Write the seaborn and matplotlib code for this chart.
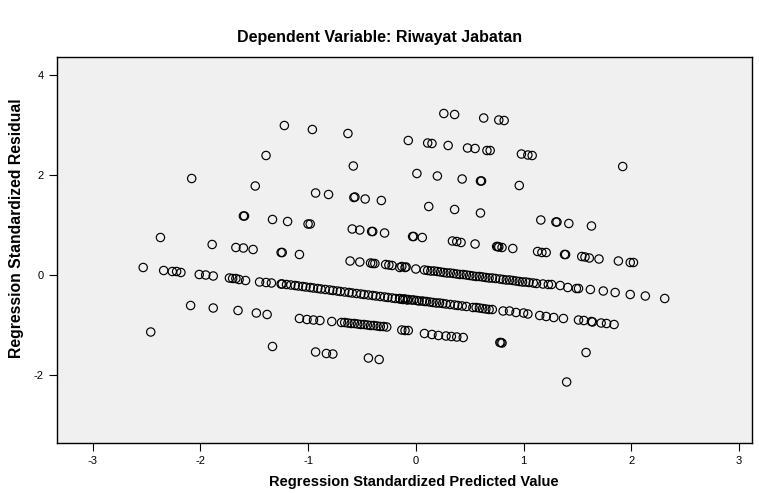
import numpy as np
import pandas as pd
import matplotlib
matplotlib.use("Agg")
import matplotlib.pyplot as plt
import seaborn as sns

# valores (residuos vs predichos estandarizados)

# puntos dispersos de arriba
x_top = [-1.22, -0.96, -0.63, -0.07, -1.39, -0.58, -1.49, -0.93, -0.81, -0.575, -0.565,
         -0.47, -0.32, 0.26, 0.36, 0.63, 0.77, 0.82, 0.11, 0.15, 0.30, 0.48, 0.55, 0.66,
         0.69, 0.98, 1.04, 1.08, 0.01, 0.20, 0.43, 0.60, 0.61, 0.96, 0.12, 0.36, 0.60,
         1.16, 1.30, 1.31, 1.42, 1.63, 1.92, -2.08]
y_top = [2.99, 2.91, 2.83, 2.69, 2.39, 2.18, 1.78, 1.64, 1.61, 1.55, 1.56,
         1.52, 1.49, 3.23, 3.21, 3.14, 3.10, 3.09, 2.64, 2.63, 2.59, 2.54, 2.53, 2.49,
         2.49, 2.42, 2.40, 2.39, 2.03, 1.98, 1.92, 1.88, 1.88, 1.79, 1.37, 1.31, 1.24,
         1.10, 1.06, 1.06, 1.03, 0.98, 2.17, 1.93]

# banda C
x_c = [-1.60, -1.59, -1.33, -1.19, -1.00, -0.98, -0.59, -0.52, -0.41, -0.40, -0.29,
       -0.03, -0.02, 0.06, 0.34, 0.38, 0.42, 0.55, 0.75, 0.76, 0.77, 0.80, 0.90,
       1.13, 1.17, 1.21, 1.38, 1.39, 1.54, 1.57, 1.61, 1.70, 1.88, 1.99, 2.02]
y_c = [1.18, 1.18, 1.11, 1.07, 1.02, 1.02, 0.92, 0.90, 0.87, 0.87, 0.84,
       0.77, 0.77, 0.75, 0.68, 0.67, 0.65, 0.62, 0.57, 0.57, 0.56, 0.55, 0.53,
       0.47, 0.45, 0.45, 0.41, 0.41, 0.37, 0.36, 0.34, 0.32, 0.28, 0.25, 0.25]

# banda B
x_b = [-2.37, -1.89, -1.67, -1.60, -1.51, -1.25, -1.24, -1.08, -0.61, -0.52, -0.42,
       -0.40, -0.38, -0.28, -0.25, -0.22, -0.15, -0.13, -0.10, -0.09, 0.00,
       0.08, 0.11, 0.14, 0.17, 0.20, 0.23, 0.26, 0.29, 0.32, 0.35, 0.38, 0.41,
       0.44, 0.47, 0.50, 0.53, 0.56, 0.59, 0.62, 0.65, 0.68, 0.71, 0.74, 0.78,
       0.81, 0.84, 0.87, 0.90, 0.93, 0.96, 0.99, 1.02, 1.05, 1.09,
       1.12, 1.18, 1.23, 1.26, 1.34, 1.41, 1.49, 1.51, 1.62, 1.74, 1.85, 1.99,
       2.13, 2.31]
y_b = [0.75, 0.61, 0.55, 0.54, 0.51, 0.45, 0.45, 0.41, 0.28, 0.26, 0.24,
       0.23, 0.23, 0.21, 0.20, 0.19, 0.15, 0.17, 0.15, 0.16, 0.12,
       0.10, 0.09, 0.08, 0.08, 0.07, 0.06, 0.05, 0.04, 0.04, 0.03, 0.02, 0.01,
       0.01, 0.00, -0.01, -0.02, -0.03, -0.03, -0.04, -0.05, -0.06, -0.06, -0.07, -0.08,
       -0.09, -0.10, -0.10, -0.11, -0.12, -0.13, -0.14, -0.14, -0.15, -0.16,
       -0.17, -0.18, -0.19, -0.19, -0.21, -0.25, -0.27, -0.27, -0.29, -0.32, -0.35, -0.39,
       -0.42, -0.47]

# banda A (la mas densa)
x_a = [-2.53, -2.34, -2.26, -2.22, -2.18, -2.01, -1.95, -1.88, -1.73, -1.70, -1.67,
       -1.64, -1.58, -1.45, -1.39, -1.34, -1.25, -1.24,
       -1.20, -1.16, -1.12, -1.09, -1.05, -1.02, -0.98, -0.95, -0.91, -0.88, -0.84,
       -0.80, -0.77, -0.73, -0.70, -0.66, -0.62, -0.59, -0.55, -0.51, -0.48, -0.44,
       -0.40, -0.37, -0.33, -0.29, -0.26, -0.22, -0.19, -0.15, -0.12, -0.08,
       -0.15, -0.12, -0.10, -0.07, -0.04, -0.02, 0.01, 0.03, 0.06, 0.08, 0.10, 0.13,
       0.16, 0.19, 0.22, 0.25, 0.28, 0.32, 0.36, 0.39, 0.43, 0.47, 0.53, 0.56, 0.59,
       0.62, 0.65, 0.68, 0.71, 0.81, 0.87, 0.93, 1.00, 1.04, 1.15, 1.21, 1.28, 1.37,
       1.51, 1.56, 1.63, 1.64, 1.72, 1.77, 1.84]
y_a = [0.15, 0.09, 0.07, 0.07, 0.05, 0.01, 0.00, -0.02, -0.06, -0.07, -0.07,
       -0.09, -0.11, -0.14, -0.15, -0.16, -0.18, -0.18,
       -0.19, -0.20, -0.21, -0.22, -0.23, -0.24, -0.25, -0.26, -0.27, -0.28, -0.29,
       -0.30, -0.31, -0.32, -0.33, -0.34, -0.35, -0.36, -0.37, -0.38, -0.39, -0.40,
       -0.41, -0.42, -0.43, -0.44, -0.45, -0.46, -0.47, -0.48, -0.49, -0.50,
       -0.47, -0.48, -0.48, -0.49, -0.50, -0.50, -0.51, -0.52, -0.52, -0.53, -0.53, -0.54,
       -0.55, -0.56, -0.56, -0.57, -0.58, -0.59, -0.60, -0.61, -0.62, -0.63, -0.65, -0.65, -0.66,
       -0.67, -0.68, -0.69, -0.69, -0.72, -0.72, -0.75, -0.76, -0.78, -0.81, -0.83, -0.85, -0.87,
       -0.90, -0.91, -0.93, -0.94, -0.96, -0.97, -0.99]

# banda D
x_d = [-2.09, -1.88, -1.65, -1.48, -1.38, -1.08, -1.01, -0.95, -0.89, -0.78,
       -0.69, -0.66, -0.63, -0.60, -0.57, -0.54, -0.51, -0.48, -0.45, -0.42, -0.39,
       -0.36, -0.33, -0.30, -0.27, -0.13, -0.10, -0.07, 0.08, 0.15, 0.21, 0.28,
       0.33, 0.38, 0.44, 0.78, 0.79, 0.80, 1.58]
y_d = [-0.61, -0.66, -0.71, -0.76, -0.79, -0.87, -0.89, -0.90, -0.91, -0.93,
       -0.95, -0.95, -0.96, -0.97, -0.97, -0.98, -0.99, -0.99, -1.00, -1.01, -1.01,
       -1.02, -1.03, -1.03, -1.04, -1.10, -1.11, -1.11, -1.17, -1.19, -1.21, -1.22,
       -1.23, -1.24, -1.25, -1.35, -1.35, -1.36, -1.55]

# banda E
x_e = [-2.46, -1.33, -0.93, -0.83, -0.77, -0.44, -0.34, 1.40]
y_e = [-1.14, -1.43, -1.54, -1.57, -1.58, -1.66, -1.69, -2.14]

df = pd.DataFrame({
    'pred': x_top + x_c + x_b + x_a + x_d + x_e,
    'resid': y_top + y_c + y_b + y_a + y_d + y_e,
})

sns.set_style("white")
plt.rcParams['font.family'] = ['Liberation Sans', 'DejaVu Sans']
plt.rcParams['axes.unicode_minus'] = False

fig = plt.figure(figsize=(7.59, 4.93), dpi=100)
ax = fig.add_axes([57 / 759, 1 - 443 / 493, 695 / 759, 386 / 493])
ax.set_facecolor('#f0f0f0')

sns.scatterplot(data=df, x='pred', y='resid', ax=ax, marker='o', s=36,
                facecolor='none', edgecolor='black', linewidth=0.85)

ax.set_xlim(-3.33, 3.12)
ax.set_ylim(-3.36, 4.36)
ax.set_xticks([-3, -2, -1, 0, 1, 2, 3])
ax.set_yticks([-2, 0, 2, 4])
ax.tick_params(axis='both', direction='out', length=6, width=0.8, labelsize=8,
               colors='black', left=True, bottom=True)
for sp in ax.spines.values():
    sp.set_color('black')
    sp.set_linewidth(1.0)

ax.set_xlabel('')
ax.set_ylabel('')
fig.text(0.545, 0.022, 'Regression Standardized Predicted Value', ha='center',
         va='center', fontsize=10.5, fontweight='bold', color='black')
fig.text(0.022, 1 - 228 / 493, 'Regression Standardized Residual', ha='center',
         va='center', rotation=90, fontsize=11.3, fontweight='bold', color='black')
fig.text(0.5, 0.923, 'Dependent Variable: Riwayat Jabatan', ha='center', va='center',
         fontsize=11.5, fontweight='bold', color='black')

fig.savefig('out.png', dpi=100)
